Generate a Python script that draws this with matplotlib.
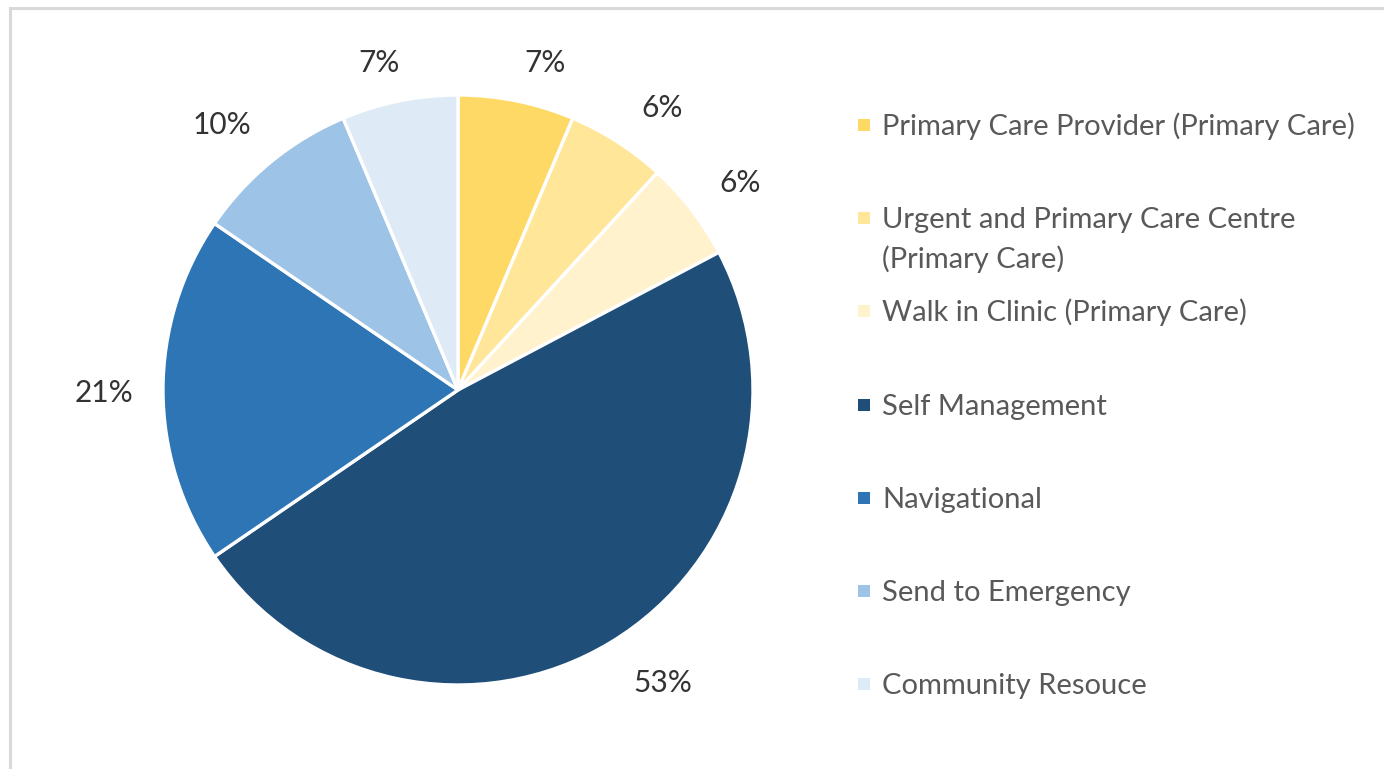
import matplotlib
matplotlib.use("Agg")
import matplotlib.pyplot as plt
import numpy as np
from matplotlib.patches import Rectangle

categories = [
    "Primary Care Provider (Primary Care)",
    "Urgent and Primary Care Centre\n(Primary Care)",
    "Walk in Clinic (Primary Care)",
    "Self Management",
    "Navigational",
    "Send to Emergency",
    "Community Resouce",
]
values = [7, 6, 6, 53, 21, 10, 7]
label_texts = ["7%", "6%", "6%", "53%", "21%", "10%", "7%"]
colors = ["#FFD966", "#FFE699", "#FFF2CC", "#1F4E79", "#2E75B6", "#9DC3E6", "#DEEBF7"]

plt.rcParams["font.family"] = ["Lato", "DejaVu Sans"]

W, H = 1384, 769
fig = plt.figure(figsize=(W / 100, H / 100), dpi=100)

# outer border (grey), top and left visible
fig.patches.append(Rectangle((10 / W, -0.1), 1.2, (H - 8) / H + 0.1, transform=fig.transFigure,
                             fill=False, edgecolor="#D9D9D9", linewidth=2.2))

cx, cy, r = 458, 390, 295
ax = fig.add_axes([(cx - r) / W, (H - cy - r) / H, 2 * r / W, 2 * r / H])
wedges, _ = ax.pie(values, colors=colors, startangle=90, counterclock=False,
                   wedgeprops=dict(edgecolor="white", linewidth=2.4))
ax.set_aspect("equal")
ax.set_xlim(-1, 1)
ax.set_ylim(-1, 1)

# label placement (best-fit style): radial distance and angular offset
dists = [1.147, 1.18, 1.186, 1.212, 1.20, 1.203, 1.14]
offs = [-3.4, -3.2, -1.4, 3.8, 0.5, 2.4, 2.2]
for w, t, d, o in zip(wedges, label_texts, dists, offs):
    ang = np.deg2rad((w.theta1 + w.theta2) / 2 + o)
    ax.text(d * np.cos(ang), d * np.sin(ang), t, ha="center", va="center",
            fontsize=21.5, color="#333333")

# legend
sq = 12
for i, (lab, col) in enumerate(zip(categories, colors)):
    yc = 125 + 93.2 * i
    fig.patches.append(Rectangle((858 / W, (H - yc - sq / 2) / H), sq / W, sq / H,
                                 transform=fig.transFigure, facecolor=col, edgecolor="none"))
    for k, line in enumerate(lab.split("\n")):
        fig.text(882 / W, (H - yc - 10 - 40 * k) / H, line, ha="left", va="baseline",
                 fontsize=21, color="#595959")

fig.savefig("out.png", dpi=100)
